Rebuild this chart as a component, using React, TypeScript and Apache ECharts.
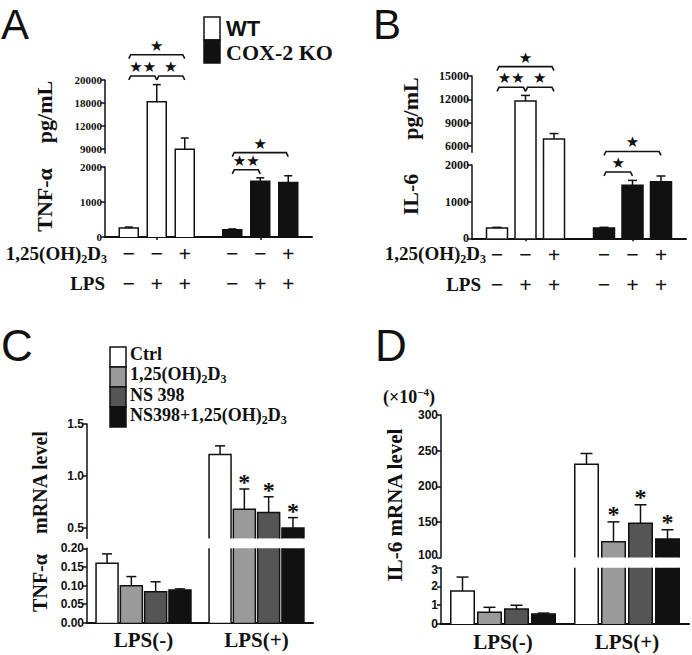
import React, { useEffect, useRef } from "react";
import * as echarts from "echarts";

const SERIF = '"Liberation Serif", "Times New Roman", serif';
const SANS = '"Liberation Sans", Arial, sans-serif';
const INK = "#111";

// ---------- Panels A and B (protein, pg/mL) ----------
const abGroups = ["WT", "COX-2 KO"];
const abConditions = ["Ctrl", "LPS", "1,25(OH)2D3+LPS"];
const rowD3 = ["−", "−", "+"];
const rowLPS = ["−", "+", "+"];
const aTNF = [
  [260, 18100, 8900],
  [210, 1590, 1560],
];
const aTNFErr = [
  [25, 1500, 1500],
  [20, 100, 190],
];
const bIL6 = [
  [280, 11800, 6900],
  [280, 1450, 1540],
];
const bIL6Err = [
  [20, 700, 700],
  [20, 130, 160],
];
// significance brackets: [group, from condition, to condition, level]
const aBracketsTop = [
  [0, 0, 2, 22200],
  [0, 0, 1, 20350],
  [0, 1, 2, 20350],
];
const aBracketsTopLabels = ["★", "★★", "★"];
const aBracketsKO = [
  [1, 0, 2, 2410],
  [1, 0, 1, 1920],
];
const aBracketsKOLabels = ["★", "★★"];
const bBracketsTop = [
  [0, 0, 2, 16200],
  [0, 0, 1, 13550],
  [0, 1, 2, 13550],
];
const bBracketsTopLabels = ["★", "★★", "★"];
const bBracketsKO = [
  [1, 0, 2, 2370],
  [1, 0, 1, 1810],
];
const bBracketsKOLabels = ["★", "★"];

// ---------- Panels C and D (mRNA) ----------
const cdGroups = ["LPS(-)", "LPS(+)"];
const cdTreatments = ["Ctrl", "1,25(OH)2D3", "NS 398", "NS398+1,25(OH)2D3"];
const cTNF = [
  [0.16, 0.099, 0.083, 0.088],
  [1.207, 0.68, 0.65, 0.5],
];
const cTNFErr = [
  [0.025, 0.025, 0.027, 0.003],
  [0.083, 0.195, 0.15, 0.1],
];
const cSig = [
  [0, 0, 0, 0],
  [0, 1, 1, 1],
];
const dIL6 = [
  [1.76, 0.63, 0.8, 0.53],
  [231, 122, 148, 126],
];
const dIL6Err = [
  [0.74, 0.26, 0.2, 0.05],
  [15, 28, 26, 13],
];
const dSig = [
  [0, 0, 0, 0],
  [0, 1, 1, 1],
];

const abFill = ["#ffffff", "#111111"]; // by genotype
const cdFill = ["#ffffff", "#9a9a9a", "#555555", "#111111"]; // by treatment

type BarCfg = {
  barW: number;
  gap: number;
  capW: number;
  bridge: number;
  fill: (g: number, s: number) => string;
  starFont?: string;
  starDy?: number;
};

function txtStyle(text: string, x: number, y: number, font: string, align = "center", vAlign = "middle", extra: any = {}) {
  return {
    text,
    x,
    y,
    font,
    fill: INK,
    align,
    verticalAlign: vAlign,
    textAlign: align,
    textVerticalAlign: vAlign,
    ...extra,
  };
}

function barSeries(axis: number, name: string, means: number[][], errs: number[][], sig: number[][] | null, cfg: BarCfg) {
  const data: number[][] = [];
  means.forEach((row, g) => row.forEach((v, s) => data.push([g, s, v, errs[g][s], sig ? sig[g][s] : 0])));
  const n = means[0].length;
  return {
    type: "custom",
    name,
    xAxisIndex: axis,
    yAxisIndex: axis,
    data,
    clip: false,
    silent: true,
    encode: { x: 0, y: 2 },
    renderItem: (params: any, api: any) => {
      const g = api.value(0);
      const s = api.value(1);
      const v = api.value(2);
      const e = api.value(3);
      const sg = api.value(4);
      const cs = params.coordSys;
      const top = cs.y;
      const bottom = cs.y + cs.height;
      const p = api.coord([g, v]);
      if (p[1] >= bottom - 0.01) return null;
      const cx = p[0] + (s - (n - 1) / 2) * (cfg.barW + cfg.gap);
      const x0 = cx - cfg.barW / 2;
      const x1 = cx + cfg.barW / 2;
      const base = bottom + cfg.bridge;
      const capped = p[1] >= top;
      const yT = capped ? p[1] : top;
      const children: any[] = [
        {
          type: "rect",
          shape: { x: x0, y: yT, width: cfg.barW, height: base - yT },
          style: { fill: cfg.fill(g, s), lineWidth: 0 },
        },
      ];
      const ls = { stroke: INK, lineWidth: 1.5, fill: null };
      if (capped) {
        children.push({
          type: "polyline",
          shape: { points: [[x0, base], [x0, yT], [x1, yT], [x1, base]] },
          style: ls,
        });
        if (e > 0) {
          const pe = api.coord([g, v + e]);
          children.push({ type: "line", shape: { x1: cx, y1: yT, x2: cx, y2: pe[1] }, style: ls });
          children.push({
            type: "line",
            shape: { x1: cx - cfg.capW / 2, y1: pe[1], x2: cx + cfg.capW / 2, y2: pe[1] },
            style: ls,
          });
          if (sg && cfg.starFont) {
            children.push({ type: "text", style: txtStyle("*", cx, pe[1] + (cfg.starDy || 0), cfg.starFont) });
          }
        }
      } else {
        children.push({ type: "line", shape: { x1: x0, y1: yT, x2: x0, y2: base }, style: ls });
        children.push({ type: "line", shape: { x1: x1, y1: yT, x2: x1, y2: base }, style: ls });
      }
      return { type: "group", children };
    },
  };
}

function bracketSeries(axis: number, brackets: number[][], labels: string[], n: number, barW: number, gap: number) {
  return {
    type: "custom",
    xAxisIndex: axis,
    yAxisIndex: axis,
    data: brackets,
    clip: false,
    silent: true,
    encode: { x: 0, y: 3 },
    renderItem: (params: any, api: any) => {
      const g = api.value(0);
      const s1 = api.value(1);
      const s2 = api.value(2);
      const lvl = api.value(3);
      const p = api.coord([g, lvl]);
      const step = barW + gap;
      const xa = p[0] + (s1 - (n - 1) / 2) * step;
      const xb = p[0] + (s2 - (n - 1) / 2) * step;
      const y = p[1];
      return {
        type: "group",
        children: [
          {
            type: "polyline",
            shape: { points: [[xa, y + 4], [xa + 2, y], [xb - 2, y], [xb, y + 4]] },
            style: { stroke: INK, lineWidth: 1.6, fill: null },
          },
          {
            type: "text",
            style: txtStyle(labels[params.dataIndex], (xa + xb) / 2, y - 9, `15px "DejaVu Sans", ${SANS}`),
          },
        ],
      };
    },
  };
}

function rowSeries(axis: number, nGroups: number, n: number, barW: number, gap: number) {
  const data: number[][] = [];
  for (let g = 0; g < nGroups; g++) for (let s = 0; s < n; s++) data.push([g, s]);
  return {
    type: "custom",
    xAxisIndex: axis,
    yAxisIndex: axis,
    data,
    clip: false,
    silent: true,
    encode: { x: 0, y: 1 },
    renderItem: (params: any, api: any) => {
      const g = api.value(0);
      const s = api.value(1);
      const cs = params.coordSys;
      const p = api.coord([g, 0]);
      const cx = p[0] + (s - (n - 1) / 2) * (barW + gap);
      const yb = cs.y + cs.height;
      const f = `bold 22px ${SERIF}`;
      return {
        type: "group",
        children: [
          { type: "text", style: txtStyle(rowD3[s], cx, yb + 16, f) },
          { type: "text", style: txtStyle(rowLPS[s], cx, yb + 46, f) },
        ],
      };
    },
  };
}

function xAx(grid: number, data: string[], show: boolean, ticks: boolean, label: boolean) {
  return {
    type: "category",
    gridIndex: grid,
    data,
    show,
    axisLine: { show: true, lineStyle: { color: INK, width: 2 } },
    axisTick: { show: ticks, alignWithLabel: true, length: 3, lineStyle: { color: INK, width: 1.5 } },
    axisLabel: label
      ? { show: true, color: INK, fontFamily: SERIF, fontWeight: "bold", fontSize: 21, margin: 7 }
      : { show: false },
    splitLine: { show: false },
  };
}

function yAx(
  grid: number,
  min: number,
  max: number,
  o: { interval?: number; custom?: number[]; fmt?: (v: number) => string; font: string; size: number; rich?: any }
) {
  const ax: any = {
    type: "value",
    gridIndex: grid,
    min,
    max,
    axisLine: { show: true, onZero: false, lineStyle: { color: INK, width: 1.5 } },
    axisTick: { show: true, length: 4, lineStyle: { color: INK, width: 1.5 } },
    splitLine: { show: false },
    axisLabel: {
      color: INK,
      fontFamily: o.font,
      fontWeight: "bold",
      fontSize: o.size,
      margin: 3,
      formatter: o.fmt || ((v: number) => String(Math.round(v))),
    },
  };
  if (o.rich) ax.axisLabel.rich = o.rich;
  if (o.interval) ax.interval = o.interval;
  if (o.custom) {
    ax.axisLabel.customValues = o.custom;
    ax.axisTick.customValues = o.custom;
  }
  return ax;
}

const subRich = (size: number) => ({
  s: { fontSize: size, fontFamily: SERIF, fontWeight: "bold", lineHeight: 12, verticalAlign: "bottom", fill: INK },
});
const withSubs = (t: string) => t.replace("(OH)2D3", "(OH){s|2}D{s|3}");
const nudge = (pad: number[]) => ({
  n: { fontSize: 12, fontFamily: SANS, fontWeight: "bold", color: INK, padding: pad },
});

function buildOption() {
  const grids = [
    { left: 105, top: 80, width: 207, height: 46 },
    { left: 105, top: 126, width: 207, height: 27 },
    { left: 105, top: 167, width: 207, height: 70 },
    { left: 472, top: 76, width: 214, height: 76.2 },
    { left: 472, top: 165, width: 214, height: 73.3 },
    { left: 87, top: 424, width: 226, height: 114.4 },
    { left: 87, top: 548.3, width: 226, height: 74.4 },
    { left: 441, top: 415, width: 248, height: 142.5 },
    { left: 441, top: 567.7, width: 248, height: 56.3 },
  ].map((g) => ({ ...g, containLabel: false, outerBoundsMode: "none" }));

  const xAxis = [
    xAx(0, abGroups, false, false, false),
    xAx(1, abGroups, false, false, false),
    xAx(2, abGroups, true, true, false),
    xAx(3, abGroups, false, false, false),
    xAx(4, abGroups, true, true, false),
    xAx(5, cdGroups, false, false, false),
    xAx(6, cdGroups, true, false, true),
    xAx(7, cdGroups, false, false, false),
    xAx(8, cdGroups, true, false, true),
  ];
  const yAxis = [
    yAx(0, 16000, 20000, { custom: [18000, 20000], font: SERIF, size: 11 }),
    yAx(1, 8400, 12000, { custom: [9000, 12000], font: SERIF, size: 11 }),
    yAx(2, 0, 2000, { interval: 1000, font: SERIF, size: 11 }),
    yAx(3, 5200, 15000, { custom: [6000, 9000, 12000, 15000], font: SERIF, size: 12 }),
    yAx(4, 0, 2000, { interval: 1000, font: SERIF, size: 12 }),
    yAx(5, 0.4, 1.5, { custom: [0.5, 1, 1.5], fmt: (v) => v.toFixed(1), font: SANS, size: 12 }),
    yAx(6, 0, 0.2, { interval: 0.05, fmt: (v) => v.toFixed(2), font: SANS, size: 12 }),
    yAx(7, 100, 300, {
      interval: 50,
      font: SANS,
      size: 12,
      fmt: (v) => (v === 100 ? `{n|${v}}` : String(v)),
      rich: nudge([0, 0, 5, 0]),
    }),
    yAx(8, 0, 3, {
      interval: 1,
      font: SANS,
      size: 12,
      fmt: (v) => (v === 3 ? `{n|${v}}` : String(v)),
      rich: nudge([5, 0, 0, 0]),
    }),
  ];

  const aCfg = (bridge: number): BarCfg => ({ barW: 19, gap: 9, capW: 8, bridge, fill: (g) => abFill[g] });
  const bCfg = (bridge: number): BarCfg => ({ barW: 21, gap: 7.5, capW: 9, bridge, fill: (g) => abFill[g] });
  const cCfg: BarCfg = { barW: 22, gap: 2.3, capW: 10, bridge: 0, fill: (_g, s) => cdFill[s], starFont: `bold 24px ${SERIF}`, starDy: -7 };
  const dCfg: BarCfg = { barW: 23.5, gap: 3.5, capW: 12, bridge: 0, fill: (_g, s) => cdFill[s], starFont: `bold 24px ${SERIF}`, starDy: -8 };

  const series: any[] = [
    barSeries(0, "A-top", aTNF, aTNFErr, null, aCfg(0)),
    barSeries(1, "A-mid", aTNF, aTNFErr, null, aCfg(14)),
    barSeries(2, "A-low", aTNF, aTNFErr, null, aCfg(0)),
    bracketSeries(0, aBracketsTop, aBracketsTopLabels, 3, 19, 9),
    bracketSeries(2, aBracketsKO, aBracketsKOLabels, 3, 19, 9),
    rowSeries(2, abGroups.length, abConditions.length, 19, 9),
    barSeries(3, "B-top", bIL6, bIL6Err, null, bCfg(12.8)),
    barSeries(4, "B-low", bIL6, bIL6Err, null, bCfg(0)),
    bracketSeries(3, bBracketsTop, bBracketsTopLabels, 3, 21, 7.5),
    bracketSeries(4, bBracketsKO, bBracketsKOLabels, 3, 21, 7.5),
    rowSeries(4, abGroups.length, abConditions.length, 21, 7.5),
    barSeries(5, "C-top", cTNF, cTNFErr, cSig, cCfg),
    barSeries(6, "C-low", cTNF, cTNFErr, cSig, cCfg),
    barSeries(7, "D-top", dIL6, dIL6Err, dSig, dCfg),
    barSeries(8, "D-low", dIL6, dIL6Err, dSig, dCfg),
  ];

  const t = (text: string, x: number, y: number, font: string, align = "left", extra: any = {}, elExtra: any = {}) => ({
    type: "text",
    x,
    y,
    silent: true,
    ...elExtra,
    style: txtStyle(text, 0, 0, font, align, "middle", extra),
  });
  const rot = { rotation: Math.PI / 2 };
  const tf22 = `bold 22px ${SERIF}`;

  const graphic: any[] = [
    // panel letters
    t("A", 1, 24, `42px ${SANS}`),
    t("B", 373, 24, `42px ${SANS}`),
    t("C", 1, 345, `44px ${SANS}`),
    t("D", 375, 345, `44px ${SANS}`),
    // A legend
    { type: "rect", shape: { x: 204, y: 17, width: 16, height: 23 }, style: { fill: abFill[0], stroke: INK, lineWidth: 1.5 } },
    { type: "rect", shape: { x: 204, y: 40, width: 16, height: 23 }, style: { fill: abFill[1], stroke: INK, lineWidth: 1.5 } },
    t(abGroups[0], 226, 28, `bold 22px ${SANS}`),
    t(abGroups[1], 226, 52, tf22),
    // axis titles
    t("TNF-α", 44, 200, tf22, "center", {}, rot),
    t("pg/mL", 44, 112, tf22, "center", {}, rot),
    t("IL-6", 410, 194.5, tf22, "center", {}, rot),
    t("pg/mL", 410, 108.5, tf22, "center", {}, rot),
    t("TNF-α", 40, 583, `bold 20px ${SERIF}`, "center", {}, rot),
    t("mRNA level", 40, 482.5, `bold 20px ${SERIF}`, "center", {}, rot),
    t("IL-6 mRNA level", 395, 505, `bold 21px ${SERIF}`, "center", {}, rot),
    // treatment row labels
    t(withSubs("1,25(OH)2D3"), 107, 253, `bold 19px ${SERIF}`, "right", { rich: subRich(12), lineHeight: 24 }),
    t("LPS", 105, 283, `bold 19px ${SERIF}`, "right"),
    t(withSubs("1,25(OH)2D3"), 486, 253, `bold 19px ${SERIF}`, "right", { rich: subRich(12), lineHeight: 24 }),
    t("LPS", 481, 284, `bold 19px ${SERIF}`, "right"),
    // D multiplier
    t("(×10{p|−4})", 383, 397, `bold 18px ${SERIF}`, "left", {
      lineHeight: 22,
      rich: { p: { fontSize: 11, fontFamily: SERIF, fontWeight: "bold", lineHeight: 8, verticalAlign: "top", fill: INK } },
    }),
  ];
  // C legend
  const legY = [354, 374, 395, 415];
  cdTreatments.forEach((name, i) => {
    graphic.push({
      type: "rect",
      shape: { x: 110, y: 347 + 20 * i, width: 16, height: 20 },
      style: { fill: cdFill[i], stroke: INK, lineWidth: 1.5 },
    });
    graphic.push(t(withSubs(name), 130, legY[i], `bold 18px ${SERIF}`, "left", { rich: subRich(12), lineHeight: 22 }));
  });

  return { animation: false, backgroundColor: "#ffffff", grid: grids, xAxis, yAxis, series, graphic };
}

export default function App() {
  const ref = useRef<HTMLDivElement>(null);
  useEffect(() => {
    const chart = echarts.init(ref.current!, null, { renderer: "svg" });
    chart.setOption(buildOption() as any);
    return () => chart.dispose();
  }, []);
  return <div ref={ref} style={{ position: "absolute", left: 0, top: 0, width: 692, height: 655, background: "#fff" }} />;
}
